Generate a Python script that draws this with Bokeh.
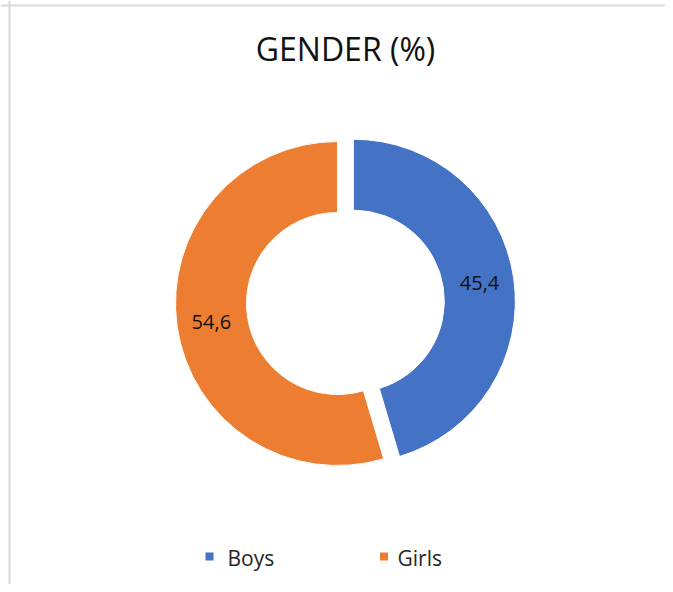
import math
from bokeh.plotting import figure
from bokeh.models import ColumnDataSource, Range1d, Span, Label
from bokeh.core.properties import value
from bokeh.embed import file_html
from bokeh.resources import INLINE

# ---- data ----
categories = ["Boys", "Girls"]
values = [45.4, 54.6]
labels = ["45,4", "54,6"]
colors = ["#4472C4", "#ED7D31"]
title_text = "GENDER (%)"

# ---- layout (page pixel coords; y flipped into data space) ----
W, H = 665, 584
def Y(py):               # page y -> data y
    return H - py

cx_page, cy_page = 337, 303
r_out, r_in = 162, 91
explode = 16
label_r = (r_out + r_in) / 2 + 1

p = figure(width=W, height=H, output_backend="svg", toolbar_location=None,
           x_range=Range1d(0, W), y_range=Range1d(0, H),
           min_border=0)
p.axis.visible = False
p.grid.visible = False
p.outline_line_color = None
p.background_fill_color = "white"
p.border_fill_color = "white"

total = sum(values)
starts, ends, xs, ys, lx, ly = [], [], [], [], [], []
cum = 0.0
for i, v in enumerate(values):
    th0 = cum / total * 360.0
    th1 = (cum + v) / total * 360.0
    cum += v
    mid = math.radians((th0 + th1) / 2)
    # clockwise-from-top -> math angle
    starts.append(math.radians(90 - th1))
    ends.append(math.radians(90 - th0))
    dx, dy = math.sin(mid), math.cos(mid)
    off = explode if i == 0 else 0
    x = cx_page + off * dx
    y = Y(cy_page) + off * dy
    xs.append(x)
    ys.append(y)
    lx.append(x + label_r * dx)
    ly.append(y + label_r * dy)

src = ColumnDataSource(dict(x=xs, y=ys, start=starts, end=ends, color=colors,
                            lx=lx, ly=ly, label=labels, cat=categories))

p.annular_wedge(x="x", y="y", inner_radius=r_in, outer_radius=r_out,
                start_angle="start", end_angle="end", fill_color="color",
                line_color="white", line_width=1, source=src)

p.text(x="lx", y="ly", text="label", source=src, text_align="center",
       text_baseline="middle", text_font=value("Open Sans"),
       text_font_size="20px", text_color="#111111")

# title
p.add_layout(Label(x=345, y=Y(48), text=title_text, text_align="center",
                   text_baseline="middle", text_font="Open Sans",
                   text_font_size="32px", text_color="#111111"))

# legend (manual)
leg_sq_x = [209, 383.5]
leg_tx = [227, 397]
leg_src = ColumnDataSource(dict(sx=leg_sq_x, sy=[Y(556)] * 2, tx=leg_tx,
                                ty=[Y(557)] * 2, cat=categories, color=colors))
p.rect(x="sx", y="sy", width=8, height=8, fill_color="color", line_color=None,
       source=leg_src)
p.text(x="tx", y="ty", text="cat", source=leg_src, text_align="left",
       text_baseline="middle", text_font=value("Open Sans"),
       text_font_size="21px", text_color="#262626")

# chart-area border (top and left visible)
p.add_layout(Span(location=Y(5), dimension="width", line_color="#d9d9d9", line_width=2))
p.add_layout(Span(location=9, dimension="height", line_color="#d9d9d9", line_width=2))

open("out.html", "w").write(file_html(p, INLINE))
